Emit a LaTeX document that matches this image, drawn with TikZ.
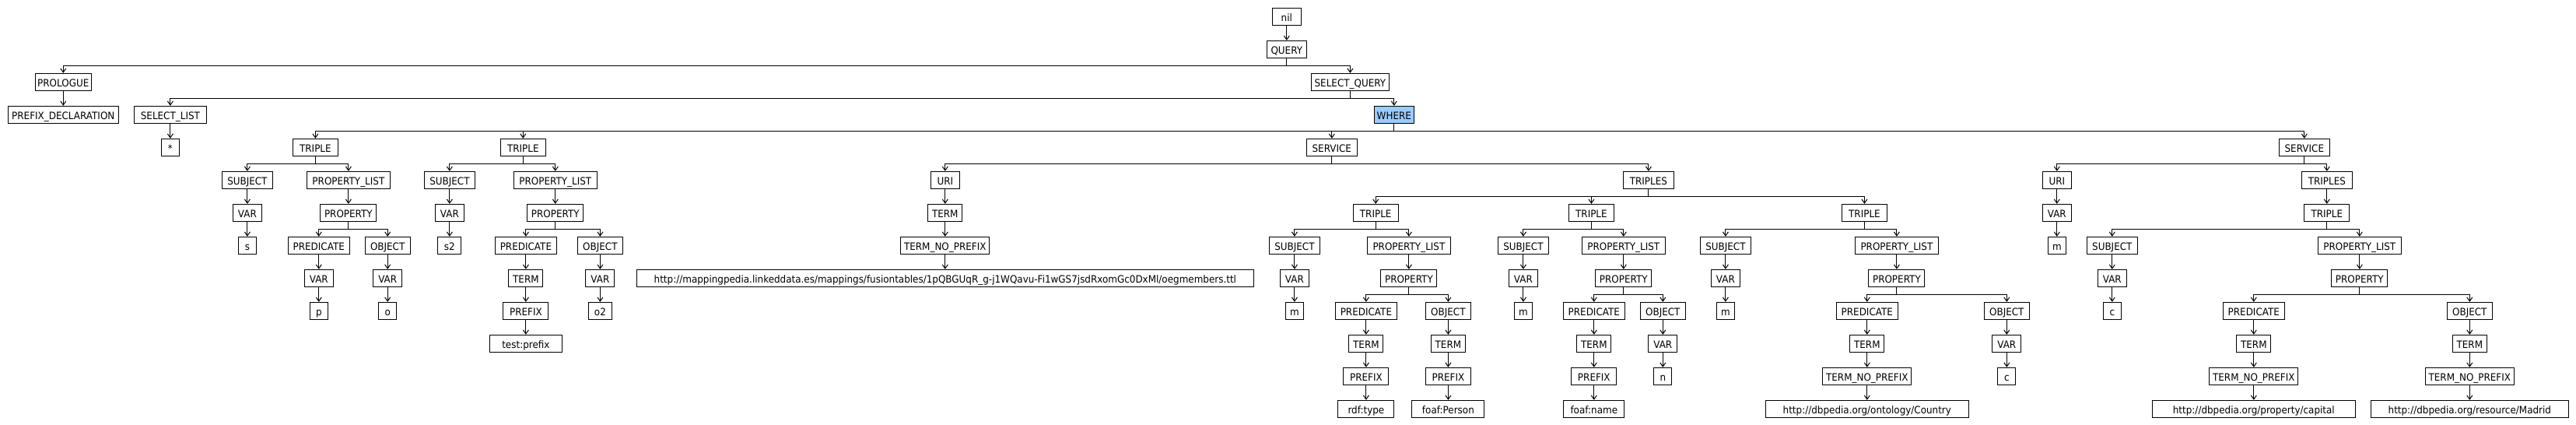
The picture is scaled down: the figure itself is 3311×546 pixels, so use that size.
\documentclass[tikz,border=0pt]{standalone}
\usepackage{fontspec}
\setmainfont{DejaVu Sans}[FakeStretch=0.92]
\usetikzlibrary{arrows.meta}
\definecolor{whereblue}{RGB}{153,204,255}
\tikzset{
  bx/.style={draw, line width=1pt, rectangle, inner sep=0pt, minimum height=22pt,
    font=\fontsize{13}{15}\selectfont, text height=12.5pt, text depth=0pt},
  conn/.style={line width=1pt, -{Straight Barb[length=5pt,width=7pt]}},
}
\newcommand{\nd}[5]{\node[bx, minimum width=#4pt] (#1) at (#2,#3) {#5};}
\newcommand{\cn}[2]{\draw[conn] (#1.south) -- ++(0,10) -| (#2.north);}
\begin{document}
\begin{tikzpicture}[x=1pt,y=-1pt]
\useasboundingbox (0,0) rectangle (3311,546);
% row 0-3
\nd{nil}{1653.8}{21.3}{37}{nil}
\nd{query}{1653.8}{63.3}{51}{QUERY}
\nd{prologue}{81.3}{105.3}{72}{PROLOGUE}
\nd{selq}{1735.4}{105.3}{100}{SELECT\_QUERY}
\nd{prefdecl}{81.3}{147.3}{142}{PREFIX\_DECLARATION}
\nd{sellist}{218.9}{147.3}{93}{SELECT\_LIST}
\node[bx, minimum width=51pt, fill=whereblue] (where) at (1791.8,147.3) {WHERE};
% row 4
\nd{star}{218.9}{189.3}{23}{*}
\nd{tA}{405.4}{189.3}{58}{TRIPLE}
\nd{tB}{672.3}{189.3}{58}{TRIPLE}
\nd{svA}{1711.8}{189.3}{65}{SERVICE}
\nd{svB}{2961.8}{189.3}{65}{SERVICE}
% row 5
\nd{subA}{317.9}{231.3}{65}{SUBJECT}
\nd{plA}{447.9}{231.3}{107}{PROPERTY\_LIST}
\nd{subB}{577.9}{231.3}{65}{SUBJECT}
\nd{plB}{713.8}{231.3}{107}{PROPERTY\_LIST}
\nd{uriA}{1214.8}{231.3}{37}{URI}
\nd{tsA}{2118.9}{231.3}{65}{TRIPLES}
\nd{uriB}{2643.8}{231.3}{37}{URI}
\nd{tsB}{2990.8}{231.3}{65}{TRIPLES}
% row 6
\nd{varA}{317.9}{273.3}{37}{VAR}
\nd{prA}{447.9}{273.3}{72}{PROPERTY}
\nd{varB}{577.9}{273.3}{37}{VAR}
\nd{prB}{713.8}{273.3}{72}{PROPERTY}
\nd{termU}{1214.8}{273.3}{44}{TERM}
\nd{tC}{1768.2}{273.3}{58}{TRIPLE}
\nd{tD}{2045.4}{273.3}{58}{TRIPLE}
\nd{tE}{2396.4}{273.3}{58}{TRIPLE}
\nd{varU}{2643.8}{273.3}{37}{VAR}
\nd{tF}{2990.8}{273.3}{58}{TRIPLE}
% row 7
\nd{sA}{317.9}{315.3}{23}{s}
\nd{predA}{409.8}{315.3}{79}{PREDICATE}
\nd{objA}{498.2}{315.3}{58}{OBJECT}
\nd{sB}{577.9}{315.3}{30}{s2}
\nd{predB}{675.9}{315.3}{79}{PREDICATE}
\nd{objB}{771.4}{315.3}{58}{OBJECT}
\nd{tnpU}{1214.8}{315.3}{114}{TERM\_NO\_PREFIX}
\nd{subC}{1663.9}{315.3}{65}{SUBJECT}
\nd{plC}{1810.9}{315.3}{107}{PROPERTY\_LIST}
\nd{subD}{1957.9}{315.3}{65}{SUBJECT}
\nd{plD}{2086.8}{315.3}{107}{PROPERTY\_LIST}
\nd{subE}{2217.9}{315.3}{65}{SUBJECT}
\nd{plE}{2437.9}{315.3}{107}{PROPERTY\_LIST}
\nd{mU}{2643.8}{315.3}{23}{m}
\nd{subF}{2714.8}{315.3}{65}{SUBJECT}
\nd{plF}{3032.8}{315.3}{107}{PROPERTY\_LIST}
% row 8
\nd{varP}{409.8}{357.3}{37}{VAR}
\nd{varO}{498.2}{357.3}{37}{VAR}
\nd{termB}{675.9}{357.3}{44}{TERM}
\nd{varOt}{771.4}{357.3}{37}{VAR}
\nd{url}{1214.8}{357.3}{793}{http://mappingpedia.linkeddata.es/mappings/fusiontables/1pQBGUqR\_g-j1WQavu-Fi1wGS7jsdRxomGc0DxMl/oegmembers.ttl}
\nd{varC}{1663.9}{357.3}{37}{VAR}
\nd{prC}{1810.9}{357.3}{72}{PROPERTY}
\nd{varD}{1957.9}{357.3}{37}{VAR}
\nd{prD}{2086.8}{357.3}{72}{PROPERTY}
\nd{varE}{2217.9}{357.3}{37}{VAR}
\nd{prE}{2437.9}{357.3}{72}{PROPERTY}
\nd{varF}{2714.8}{357.3}{37}{VAR}
\nd{prF}{3032.8}{357.3}{72}{PROPERTY}
% row 9
\nd{lp}{409.8}{399.3}{23}{p}
\nd{lo}{498.2}{399.3}{23}{o}
\nd{prefB}{675.9}{399.3}{58}{PREFIX}
\nd{lot}{771.4}{399.3}{30}{o2}
\nd{mC}{1663.9}{399.3}{23}{m}
\nd{predC}{1755.9}{399.3}{79}{PREDICATE}
\nd{objC}{1861.4}{399.3}{58}{OBJECT}
\nd{mD}{1957.9}{399.3}{23}{m}
\nd{predD}{2048.8}{399.3}{79}{PREDICATE}
\nd{objD}{2137.3}{399.3}{58}{OBJECT}
\nd{mE}{2217.9}{399.3}{23}{m}
\nd{predE}{2399.8}{399.3}{79}{PREDICATE}
\nd{objE}{2579.3}{399.3}{58}{OBJECT}
\nd{cF}{2714.8}{399.3}{23}{c}
\nd{predF}{2896.8}{399.3}{79}{PREDICATE}
\nd{objF}{3174.3}{399.3}{58}{OBJECT}
% row 10
\nd{testp}{675.9}{441.3}{93}{test:prefix}
\nd{termCa}{1755.9}{441.3}{44}{TERM}
\nd{termCb}{1861.4}{441.3}{44}{TERM}
\nd{termDa}{2048.8}{441.3}{44}{TERM}
\nd{varDb}{2137.3}{441.3}{37}{VAR}
\nd{termEa}{2399.8}{441.3}{44}{TERM}
\nd{varEb}{2579.3}{441.3}{37}{VAR}
\nd{termFa}{2896.8}{441.3}{44}{TERM}
\nd{termFb}{3174.3}{441.3}{44}{TERM}
% row 11
\nd{prefCa}{1755.9}{483.3}{58}{PREFIX}
\nd{prefCb}{1861.4}{483.3}{58}{PREFIX}
\nd{prefDa}{2048.8}{483.3}{58}{PREFIX}
\nd{lnD}{2137.3}{483.3}{23}{n}
\nd{tnpE}{2399.8}{483.3}{114}{TERM\_NO\_PREFIX}
\nd{lcE}{2579.3}{483.3}{23}{c}
\nd{tnpFa}{2896.8}{483.3}{114}{TERM\_NO\_PREFIX}
\nd{tnpFb}{3174.3}{483.3}{114}{TERM\_NO\_PREFIX}
% row 12
\nd{rdft}{1755.9}{525.3}{72}{rdf:type}
\nd{foafp}{1861.4}{525.3}{93}{foaf:Person}
\nd{foafn}{2048.8}{525.3}{78}{foaf:name}
\nd{country}{2399.8}{525.3}{261}{http://dbpedia.org/ontology/Country}
\nd{capital}{2896.8}{525.3}{261}{http://dbpedia.org/property/capital}
\nd{madrid}{3174.3}{525.3}{254}{http://dbpedia.org/resource/Madrid}
% connectors
\cn{nil}{query}
\cn{query}{prologue}
\cn{query}{selq}
\cn{prologue}{prefdecl}
\cn{selq}{sellist}
\cn{selq}{where}
\cn{sellist}{star}
\cn{where}{tA}
\cn{where}{tB}
\cn{where}{svA}
\cn{where}{svB}
\cn{tA}{subA}
\cn{tA}{plA}
\cn{subA}{varA}
\cn{varA}{sA}
\cn{plA}{prA}
\cn{prA}{predA}
\cn{prA}{objA}
\cn{predA}{varP}
\cn{varP}{lp}
\cn{objA}{varO}
\cn{varO}{lo}
\cn{tB}{subB}
\cn{tB}{plB}
\cn{subB}{varB}
\cn{varB}{sB}
\cn{plB}{prB}
\cn{prB}{predB}
\cn{prB}{objB}
\cn{predB}{termB}
\cn{termB}{prefB}
\cn{prefB}{testp}
\cn{objB}{varOt}
\cn{varOt}{lot}
\cn{svA}{uriA}
\cn{svA}{tsA}
\cn{uriA}{termU}
\cn{termU}{tnpU}
\cn{tnpU}{url}
\cn{tsA}{tC}
\cn{tsA}{tD}
\cn{tsA}{tE}
\cn{tC}{subC}
\cn{tC}{plC}
\cn{subC}{varC}
\cn{varC}{mC}
\cn{plC}{prC}
\cn{prC}{predC}
\cn{prC}{objC}
\cn{predC}{termCa}
\cn{termCa}{prefCa}
\cn{prefCa}{rdft}
\cn{objC}{termCb}
\cn{termCb}{prefCb}
\cn{prefCb}{foafp}
\cn{tD}{subD}
\cn{tD}{plD}
\cn{subD}{varD}
\cn{varD}{mD}
\cn{plD}{prD}
\cn{prD}{predD}
\cn{prD}{objD}
\cn{predD}{termDa}
\cn{termDa}{prefDa}
\cn{prefDa}{foafn}
\cn{objD}{varDb}
\cn{varDb}{lnD}
\cn{tE}{subE}
\cn{tE}{plE}
\cn{subE}{varE}
\cn{varE}{mE}
\cn{plE}{prE}
\cn{prE}{predE}
\cn{prE}{objE}
\cn{predE}{termEa}
\cn{termEa}{tnpE}
\cn{tnpE}{country}
\cn{objE}{varEb}
\cn{varEb}{lcE}
\cn{svB}{uriB}
\cn{svB}{tsB}
\cn{uriB}{varU}
\cn{varU}{mU}
\cn{tsB}{tF}
\cn{tF}{subF}
\cn{tF}{plF}
\cn{subF}{varF}
\cn{varF}{cF}
\cn{plF}{prF}
\cn{prF}{predF}
\cn{prF}{objF}
\cn{predF}{termFa}
\cn{termFa}{tnpFa}
\cn{tnpFa}{capital}
\cn{objF}{termFb}
\cn{termFb}{tnpFb}
\cn{tnpFb}{madrid}
\end{tikzpicture}
\end{document}
